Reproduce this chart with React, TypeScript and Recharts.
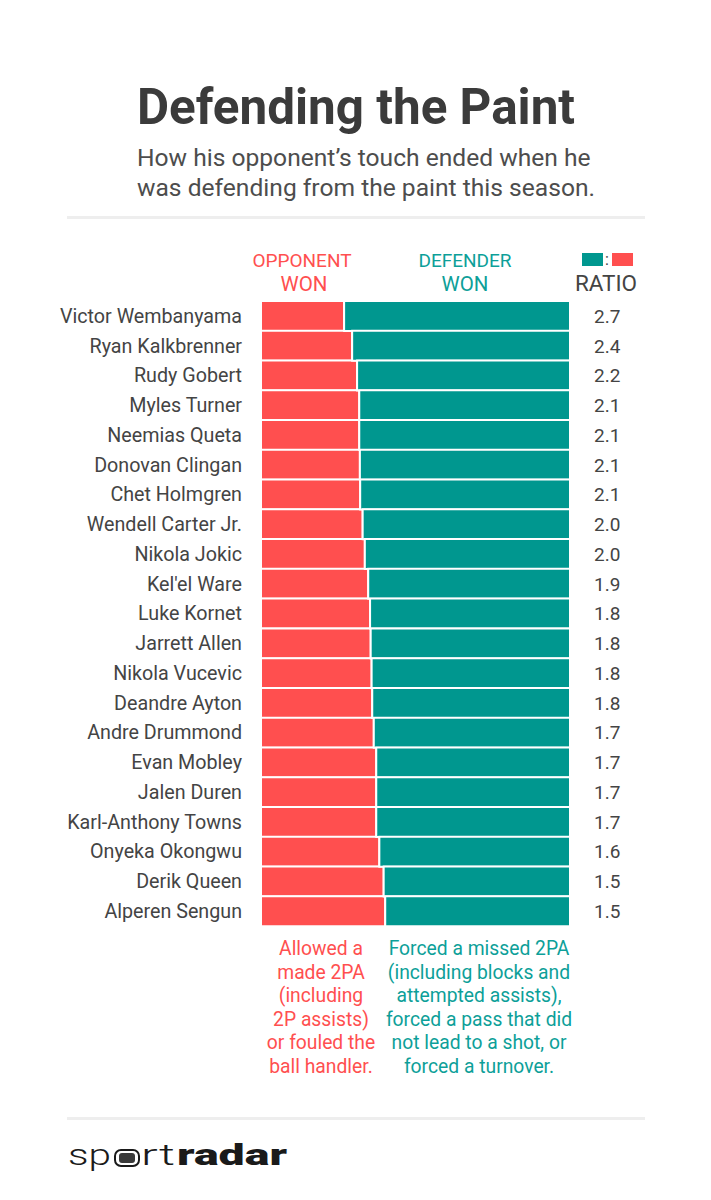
import React from 'react'
import { BarChart, Bar, XAxis, YAxis, LabelList } from 'recharts'

const RED = '#ff4f4f'
const TEAL = '#00978f'
const TEAL_TEXT = '#0d9f99'
const INK = '#444444'
const FONT = 'Roboto, "Noto Sans", sans-serif'

const players = [
  'Victor Wembanyama',
  'Ryan Kalkbrenner',
  'Rudy Gobert',
  'Myles Turner',
  'Neemias Queta',
  'Donovan Clingan',
  'Chet Holmgren',
  'Wendell Carter Jr.',
  'Nikola Jokic',
  "Kel'el Ware",
  'Luke Kornet',
  'Jarrett Allen',
  'Nikola Vucevic',
  'Deandre Ayton',
  'Andre Drummond',
  'Evan Mobley',
  'Jalen Duren',
  'Karl-Anthony Towns',
  'Onyeka Okongwu',
  'Derik Queen',
  'Alperen Sengun',
]

// share of touches (%) the opponent won
const opponentWon = [
  26.9, 29.5, 31.1, 31.8, 31.8, 32.0, 32.1, 32.9, 33.6, 34.7, 35.3,
  35.5, 35.8, 36.0, 36.5, 37.3, 37.3, 37.3, 38.3, 39.7, 40.2,
]

const ratios = [
  '2.7', '2.4', '2.2', '2.1', '2.1', '2.1', '2.1', '2.0', '2.0', '1.9', '1.8',
  '1.8', '1.8', '1.8', '1.7', '1.7', '1.7', '1.7', '1.6', '1.5', '1.5',
]

const opponentNote = [
  'Allowed a',
  'made 2PA',
  '(including',
  '2P assists)',
  'or fouled the',
  'ball handler.',
]

const defenderNote = [
  'Forced a missed 2PA',
  '(including blocks and',
  'attempted assists),',
  'forced a pass that did',
  'not lead to a shot, or',
  'forced a turnover.',
]

const chartData = players.map((name, i) => ({
  name,
  opponent: opponentWon[i],
  defender: +(100 - opponentWon[i]).toFixed(1),
  ratio: ratios[i],
}))

const NameTick = (props: any) => {
  const { x, y, payload } = props
  return (
    <text x={x} y={y} dy="0.35em" textAnchor="end" fill={INK} fontSize={19.7} fontFamily={FONT}>
      {payload.value}
    </text>
  )
}

const Overlay = () => (
  <svg
    width={711}
    height={1200}
    style={{ position: 'absolute', left: 0, top: 0, pointerEvents: 'none' }}
    fontFamily={FONT}
  >
    <text x={137} y={124} fontSize={49.4} fontWeight={700} fill="#3b3b3b">
      Defending the Paint
    </text>
    <text x={137} y={166} fontSize={24.6} fill="#4d4d4d">
      How his opponent’s touch ended when he
    </text>
    <text x={137} y={196} fontSize={24.6} fill="#4d4d4d">
      was defending from the paint this season.
    </text>
    <rect x={67} y={216} width={578} height={3} fill="#eeeeee" />

    <text x={302} y={267} fontSize={19} fill={RED} textAnchor="middle">OPPONENT</text>
    <text x={304} y={291} fontSize={20.5} fill={RED} textAnchor="middle">WON</text>
    <text x={465} y={267} fontSize={19} fill={TEAL_TEXT} textAnchor="middle">DEFENDER</text>
    <text x={465} y={291} fontSize={20.5} fill={TEAL_TEXT} textAnchor="middle">WON</text>

    <rect x={582} y={253} width={21} height={13} fill={TEAL} />
    <text x={607} y={265} fontSize={16} fill={INK} textAnchor="middle">:</text>
    <rect x={612} y={253} width={21} height={13} fill={RED} />
    <text x={606} y={291} fontSize={22.5} fill={INK} textAnchor="middle">RATIO</text>

    {opponentNote.map((line, i) => (
      <text key={i} x={321} y={955 + i * 23.6} fontSize={19.3} fill={RED} textAnchor="middle">
        {line}
      </text>
    ))}
    {defenderNote.map((line, i) => (
      <text key={i} x={479} y={955 + i * 23.6} fontSize={19.3} fill={TEAL_TEXT} textAnchor="middle">
        {line}
      </text>
    ))}

    <rect x={67} y={1117} width={578} height={3} fill="#eeeeee" />

    <text x={68} y={1165} fontSize={29} fontWeight={300} fill="#1a1a1a" textLength={43} lengthAdjust="spacingAndGlyphs">sp</text>
    <rect x={115} y={1150} width={24} height={16} rx={6} fill="none" stroke="#1a1a1a" strokeWidth={2} />
    <rect x={119} y={1153} width={16} height={10} rx={3} fill="#3a3a3a" />
    <text x={141} y={1165} fontSize={29} fontWeight={300} fill="#1a1a1a" textLength={34} lengthAdjust="spacingAndGlyphs">rt</text>
    <text x={177} y={1165} fontSize={29} fontWeight={900} fill="#1a1a1a" textLength={110} lengthAdjust="spacingAndGlyphs">radar</text>
  </svg>
)

export default function App() {
  return (
    <div style={{ position: 'absolute', left: 0, top: 0, width: 711, height: 1200, background: '#fff' }}>
      <BarChart
        width={711}
        height={1200}
        data={chartData}
        layout="vertical"
        margin={{ top: 301, right: 141, bottom: 274, left: 0 }}
        barCategoryGap={0}
      >
        <XAxis type="number" domain={[0, 100]} hide />
        <YAxis
          type="category"
          dataKey="name"
          width={261}
          axisLine={false}
          tickLine={false}
          tickSize={0}
          tickMargin={19}
          interval={0}
          tick={<NameTick />}
        />
        <Bar dataKey="opponent" stackId="a" fill={RED} stroke="#fff" strokeWidth={2} isAnimationActive={false} />
        <Bar dataKey="defender" stackId="a" fill={TEAL} stroke="#fff" strokeWidth={2} isAnimationActive={false}>
          <LabelList dataKey="ratio" position="right" offset={24} fill={INK} fontSize={19} fontFamily={FONT} />
        </Bar>
      </BarChart>
      <Overlay />
    </div>
  )
}
